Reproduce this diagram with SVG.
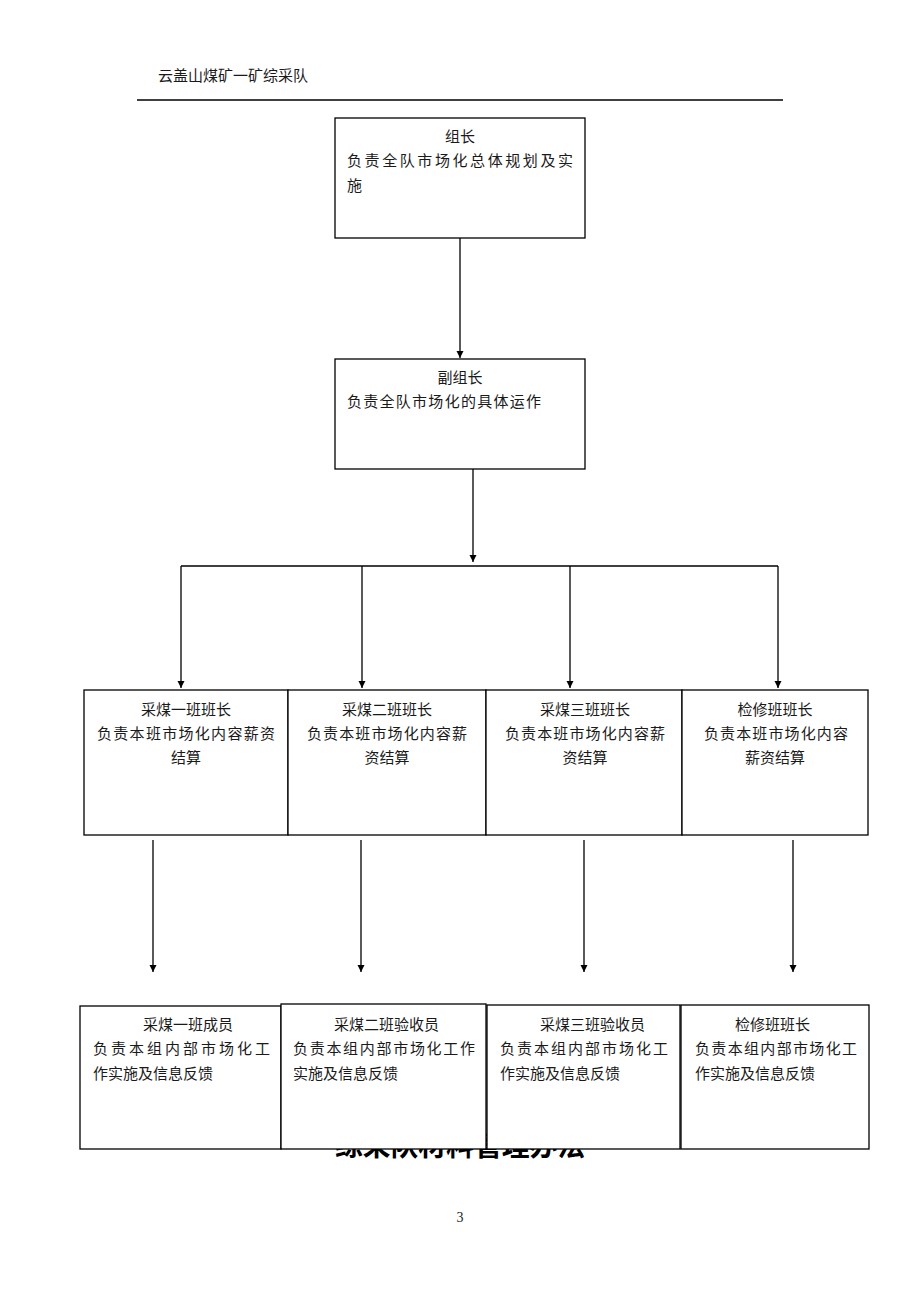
<svg xmlns="http://www.w3.org/2000/svg" width="920" height="1302" viewBox="0 0 920 1302">
<defs>
<style>
text{font-family:"Noto Sans CJK SC","Liberation Serif",sans-serif;font-size:15px;fill:#1a1a1a}
.c{text-anchor:middle}
.box{fill:#fff;stroke:#000;stroke-width:1.3}
.ln{stroke:#000;stroke-width:1.3;fill:none}
.big{font-size:28px;font-weight:bold;fill:#000}
</style>
<marker id="ah" viewBox="0 0 10 10" refX="10" refY="5" markerWidth="7" markerHeight="8" markerUnits="userSpaceOnUse" orient="auto">
<path d="M0,0 L10,5 L0,10 z" fill="#000"/>
</marker>
</defs>
<rect width="920" height="1302" fill="#fff"/>
<g id="header">
<text x="158" y="81">云盖山煤矿一矿综采队</text>
<line x1="137" y1="100" x2="783" y2="100" stroke="#000" stroke-width="1.6"/>
</g>
<text class="big" x="335" y="1156" textLength="250" lengthAdjust="spacingAndGlyphs">综采队材料管理办法</text>
<g id="connectors">
<line class="ln" x1="460" y1="238" x2="460" y2="358" marker-end="url(#ah)"/>
<line class="ln" x1="473" y1="469" x2="473" y2="562" marker-end="url(#ah)"/>
<line class="ln" x1="181" y1="566" x2="778" y2="566"/>
<line class="ln" x1="181" y1="566" x2="181" y2="688" marker-end="url(#ah)"/>
<line class="ln" x1="362" y1="566" x2="362" y2="688" marker-end="url(#ah)"/>
<line class="ln" x1="570" y1="566" x2="570" y2="688" marker-end="url(#ah)"/>
<line class="ln" x1="778" y1="566" x2="778" y2="688" marker-end="url(#ah)"/>
<line class="ln" x1="153" y1="840" x2="153" y2="972" marker-end="url(#ah)"/>
<line class="ln" x1="361" y1="840" x2="361" y2="972" marker-end="url(#ah)"/>
<line class="ln" x1="584" y1="840" x2="584" y2="972" marker-end="url(#ah)"/>
<line class="ln" x1="793" y1="840" x2="793" y2="972" marker-end="url(#ah)"/>
</g>
<g id="n-leader">
<rect class="box" x="335" y="118" width="250" height="120"/>
<text class="c" x="460" y="142">组长</text>
<text x="347" y="166" textLength="226" lengthAdjust="spacing">负责全队市场化总体规划及实</text>
<text x="347" y="191">施</text>
</g>
<g id="n-deputy">
<rect class="box" x="335" y="359" width="250" height="110"/>
<text class="c" x="460" y="383">副组长</text>
<text x="347" y="407" textLength="194" lengthAdjust="spacing">负责全队市场化的具体运作</text>
</g>
<g id="n-b1">
<rect class="box" x="84" y="690" width="204" height="145"/>
<text class="c" x="186" y="715">采煤一班班长</text>
<text class="c" x="186" y="739" textLength="178" lengthAdjust="spacing">负责本班市场化内容薪资</text>
<text class="c" x="186" y="763">结算</text>
</g>
<g id="n-b2">
<rect class="box" x="288" y="690" width="198" height="145"/>
<text class="c" x="387" y="715">采煤二班班长</text>
<text class="c" x="387" y="739" textLength="160" lengthAdjust="spacing">负责本班市场化内容薪</text>
<text class="c" x="387" y="763">资结算</text>
</g>
<g id="n-b3">
<rect class="box" x="486" y="690" width="196" height="145"/>
<text class="c" x="585" y="715">采煤三班班长</text>
<text class="c" x="585" y="739" textLength="160" lengthAdjust="spacing">负责本班市场化内容薪</text>
<text class="c" x="585" y="763">资结算</text>
</g>
<g id="n-b4">
<rect class="box" x="682" y="690" width="186" height="145"/>
<text class="c" x="775" y="715">检修班班长</text>
<text class="c" x="776" y="739" textLength="144" lengthAdjust="spacing">负责本班市场化内容</text>
<text class="c" x="775" y="763">薪资结算</text>
</g>
<g id="n-c1">
<rect class="box" x="80" y="1006" width="201" height="143"/>
<text x="143" y="1030">采煤一班成员</text>
<text x="93" y="1054" textLength="177" lengthAdjust="spacing">负责本组内部市场化工</text>
<text x="93" y="1079">作实施及信息反馈</text>
</g>
<g id="n-c2">
<rect class="box" x="281" y="1004" width="205" height="145"/>
<text x="334" y="1030">采煤二班验收员</text>
<text x="293" y="1054" textLength="182" lengthAdjust="spacing">负责本组内部市场化工作</text>
<text x="293" y="1079">实施及信息反馈</text>
</g>
<g id="n-c3">
<rect class="box" x="487" y="1005" width="193" height="144"/>
<text x="540" y="1030">采煤三班验收员</text>
<text x="500" y="1054" textLength="168" lengthAdjust="spacing">负责本组内部市场化工</text>
<text x="500" y="1079">作实施及信息反馈</text>
</g>
<g id="n-c4">
<rect class="box" x="681" y="1005" width="188" height="144"/>
<text x="735" y="1030">检修班班长</text>
<text x="695" y="1054" textLength="162" lengthAdjust="spacing">负责本组内部市场化工</text>
<text x="695" y="1079">作实施及信息反馈</text>
</g>
<text x="460" y="1222" class="c" style="font-family:'Liberation Serif',serif;font-size:14px">3</text>
</svg>
